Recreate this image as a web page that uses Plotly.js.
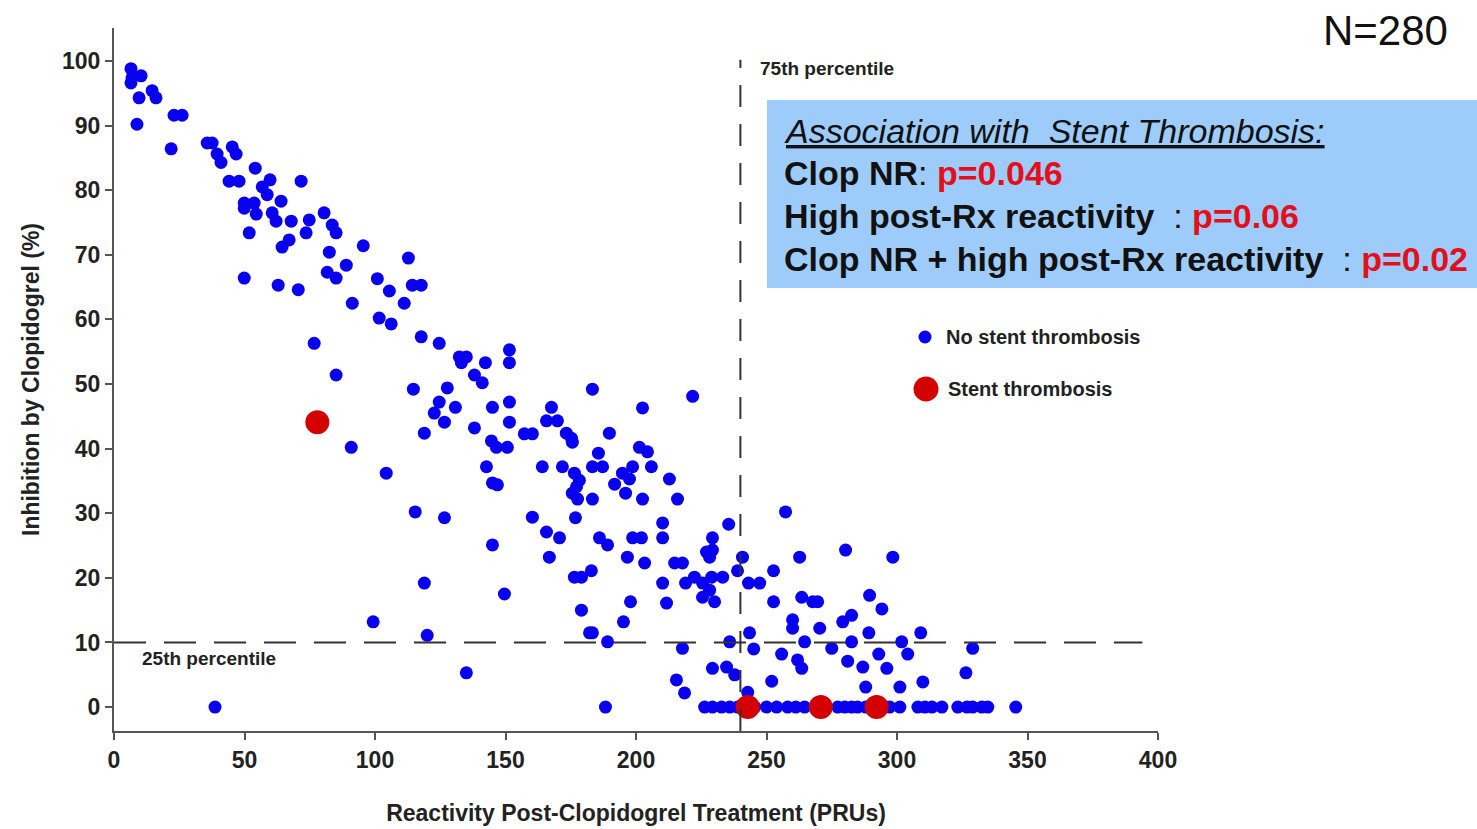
<!DOCTYPE html>
<html>
<head>
<meta charset="utf-8">
<script src="https://cdn.plot.ly/plotly-3.0.1.min.js"></script>
<style>
  html, body { margin: 0; padding: 0; background: #fff; }
  #chart { width: 1477px; height: 829px; }
</style>
</head>
<body>
<div id="chart"></div>
<script>
// ---- Data ----
// No stent thrombosis: reactivity (PRU) and inhibition (%)
const noStentX = [
  6.5, 6.9, 10.4, 6.5, 9.6, 14.6, 16.1, 8.8, 23.0, 26.1, 21.9, 35.7, 37.6, 39.5, 41.0, 45.3, 46.8, 44.1, 47.9, 54.1,
  59.8, 56.8, 58.7, 71.7, 49.9, 49.9, 53.7, 64.0, 54.5, 60.6, 62.1, 67.9, 74.8, 80.5, 83.6, 85.1, 73.6, 51.8, 67.1, 64.4,
  82.5, 89.0, 81.7, 85.1, 49.9, 62.9, 70.6, 95.5, 112.8, 100.9, 105.5, 114.3, 117.7, 91.3, 111.2, 101.6, 106.2, 117.7, 124.6, 76.7,
  132.3, 135.0, 133.1, 142.3, 151.5, 151.5, 85.1, 138.1, 141.1, 114.7, 127.7, 124.6, 122.7, 126.6, 130.8, 145.0, 151.5, 151.5, 118.9, 138.1,
  144.6, 146.5, 150.7, 90.9, 142.7, 145.0, 146.9, 104.3, 183.3, 221.7, 202.5, 167.6, 165.7, 169.9, 157.2, 160.3, 173.3, 175.3, 175.6, 189.8,
  185.6, 201.3, 204.4, 164.1, 171.8, 176.4, 178.3, 177.2, 175.6, 177.6, 183.3, 187.2, 194.8, 198.7, 197.5, 205.9, 191.8, 196.0, 183.3, 202.5,
  212.8, 215.9, 115.4, 126.6, 160.3, 176.8, 165.7, 170.7, 186.0, 189.1, 198.7, 202.1, 210.2, 210.2, 145.0, 166.8, 196.7, 203.3, 214.8, 217.8,
  176.4, 179.1, 182.9, 118.9, 149.6, 210.2, 219.0, 222.4, 225.5, 229.0, 233.2, 228.2, 230.1, 225.5, 257.3, 235.5, 229.3, 227.0, 229.3, 228.2,
  240.8, 262.7, 280.3, 298.4, 238.9, 252.7, 243.1, 247.4, 252.7, 263.5, 267.7, 269.6, 289.5, 294.2, 179.1, 197.9, 211.7, 195.2, 260.0, 260.0,
  270.4, 279.2, 282.6, 182.2, 183.3, 189.1, 243.5, 235.9, 217.8, 245.1, 264.6, 255.8, 261.9, 263.5, 282.6, 289.2, 301.8, 309.1, 275.0, 329.0,
  281.1, 286.9, 293.0, 296.1, 304.1, 326.4, 288.0, 301.1, 309.9, 229.3, 234.7, 237.8, 215.5, 218.6, 252.0, 242.8, 99.3, 120.0, 135.0, 38.7,
  188.3, 226.3, 229.3, 232.8, 235.9, 238.9, 245.5, 250.0, 253.9, 258.1, 261.2, 264.6, 277.3, 280.0, 282.6, 284.9, 288.0, 297.2, 301.1, 308.0,
  310.7, 313.4, 317.2, 323.3, 326.8, 329.0, 332.5, 334.8, 345.5
];
const noStentY = [
  98.8, 97.4, 97.7, 96.6, 94.3, 95.4, 94.3, 90.2, 91.6, 91.6, 86.4, 87.3, 87.3, 85.6, 84.3, 86.7, 85.6, 81.4, 81.4, 83.4,
  81.6, 80.5, 79.3, 81.4, 78.0, 77.2, 78.0, 78.3, 76.3, 76.5, 75.2, 75.2, 75.4, 76.5, 74.6, 73.4, 73.4, 73.4, 72.3, 71.2,
  70.4, 68.4, 67.3, 66.4, 66.4, 65.3, 64.6, 71.4, 69.5, 66.3, 64.4, 65.3, 65.3, 62.5, 62.5, 60.2, 59.3, 57.3, 56.3, 56.3,
  54.2, 54.2, 53.3, 53.3, 55.3, 53.3, 51.4, 51.4, 50.2, 49.2, 49.4, 47.2, 45.5, 44.1, 46.4, 46.4, 47.2, 44.1, 42.4, 43.2,
  41.2, 40.2, 40.2, 40.2, 37.2, 34.7, 34.4, 36.2, 49.2, 48.1, 46.3, 46.4, 44.3, 44.3, 42.3, 42.3, 42.4, 41.6, 41.0, 42.4,
  39.3, 40.2, 39.5, 37.2, 37.2, 36.2, 35.1, 34.1, 33.1, 32.2, 37.2, 37.2, 36.2, 37.2, 35.3, 37.2, 34.5, 33.1, 32.2, 32.2,
  35.3, 32.2, 30.2, 29.3, 29.4, 29.3, 27.1, 26.2, 26.2, 25.1, 26.2, 26.2, 28.5, 26.2, 25.1, 23.2, 23.2, 22.3, 22.3, 22.3,
  20.1, 20.1, 21.1, 19.2, 17.5, 19.2, 19.2, 20.1, 19.2, 20.1, 20.1, 18.1, 16.3, 17.0, 30.2, 28.3, 26.2, 24.0, 24.3, 23.2,
  23.2, 23.2, 24.3, 23.2, 21.1, 21.1, 19.2, 19.2, 16.3, 17.0, 16.3, 16.3, 17.3, 15.2, 15.0, 16.3, 16.1, 13.2, 13.5, 12.2,
  12.2, 13.2, 14.2, 11.5, 11.5, 10.1, 11.5, 10.1, 9.1, 9.0, 10.1, 8.2, 7.3, 6.0, 10.1, 11.5, 10.1, 11.5, 9.1, 9.1,
  7.1, 6.2, 8.2, 6.0, 8.2, 5.3, 3.1, 3.1, 3.9, 6.0, 6.2, 5.0, 4.2, 2.2, 4.0, 2.3, 13.2, 11.1, 5.3, 0,
  0, 0, 0, 0, 0, 0, 0, 0, 0, 0, 0, 0, 0, 0, 0, 0, 0, 0, 0, 0,
  0, 0, 0, 0, 0, 0, 0, 0, 0
];
// Stent thrombosis
const stentX = [77.9, 242.8, 270.8, 292.2];
const stentY = [44.1, 0, 0, 0];

// Percentile cut-offs
const p75PRU = 240;
const p25Inhibition = 10;

const xTicks = [0, 50, 100, 150, 200, 250, 300, 350, 400];
const yTicks = [0, 10, 20, 30, 40, 50, 60, 70, 80, 90, 100];

const boxLines = [
  {label: "Association with  Stent Thrombosis:", p: ""},
  {label: "Clop NR", sep: ": ", p: "p=0.046"},
  {label: "High post-Rx reactivity", sep: "  : ", p: "p=0.06"},
  {label: "Clop NR + high post-Rx reactivity", sep: "  : ", p: "p=0.02"}
];

// ---- Layout geometry ----
const W = 1477, H = 829;
const mL = 114, mR = W - 1158, mT = 28, mB = H - 731;
const plotW = W - mL - mR, plotH = H - mT - mB;
const px2paperX = px => (px - mL) / plotW;
const py2paperY = py => (H - mB - py) / plotH;

const FAM = "Liberation Sans, Arial, sans-serif";
const tickFont = {family: FAM, size: 23, color: "#222", weight: "bold"};
const boldFont = (sz) => ({family: FAM, size: sz, color: "#222", weight: "bold"});

const traces = [
  {
    type: "scatter", mode: "markers", x: noStentX, y: noStentY,
    marker: {color: "#0a00f0", size: 13, line: {width: 0}},
    showlegend: false, hoverinfo: "x+y"
  },
  {
    type: "scatter", mode: "markers", x: stentX, y: stentY,
    marker: {color: "#d40000", size: 24, line: {width: 0}},
    showlegend: false, hoverinfo: "x+y"
  }
];

const lineCol = "#333";
const shapes = [
  // 75th percentile vertical dashed line
  {type: "line", xref: "x", yref: "y", x0: p75PRU, x1: p75PRU, y0: -3.7, y1: 100.2,
   line: {color: lineCol, width: 2, dash: "22px,17px"}, layer: "above"},
  // 25th percentile horizontal dashed line
  {type: "line", xref: "x", yref: "y", x0: 0, x1: 394, y0: p25Inhibition, y1: p25Inhibition,
   line: {color: lineCol, width: 2, dash: "32px,18px"}, layer: "above"},
  // blue text box
  {type: "rect", xref: "paper", yref: "paper", x0: px2paperX(767), x1: px2paperX(1477),
   y0: py2paperY(288), y1: py2paperY(100), fillcolor: "rgb(158,204,250)", line: {width: 0}, layer: "below"},
  // legend markers
  {type: "circle", xref: "paper", yref: "paper", xsizemode: "pixel", ysizemode: "pixel",
   xanchor: px2paperX(925), yanchor: py2paperY(337), x0: -6.5, x1: 6.5, y0: -6.5, y1: 6.5,
   fillcolor: "#0a00f0", line: {width: 0}},
  {type: "circle", xref: "paper", yref: "paper", xsizemode: "pixel", ysizemode: "pixel",
   xanchor: px2paperX(926), yanchor: py2paperY(389), x0: -12.5, x1: 12.5, y0: -12.5, y1: 12.5,
   fillcolor: "#d40000", line: {width: 0}}
];

const boxY = [131, 173, 216, 259];

const annotations = [
  {xref: "paper", yref: "paper", x: px2paperX(1450), y: py2paperY(30), xanchor: "right", yanchor: "middle",
   text: "N=280", showarrow: false, font: {family: FAM, size: 42, color: "#111"}},
  {xref: "paper", yref: "paper", x: px2paperX(758), y: py2paperY(69), xanchor: "left", yanchor: "middle",
   text: "<b>75th percentile</b>", showarrow: false, font: boldFont(19)},
  {xref: "paper", yref: "paper", x: px2paperX(140), y: py2paperY(658), xanchor: "left", yanchor: "middle",
   text: "<b>25th percentile</b>", showarrow: false, font: boldFont(19)},
  {xref: "paper", yref: "paper", x: px2paperX(944), y: py2paperY(337), xanchor: "left", yanchor: "middle",
   text: "<b>No stent thrombosis</b>", showarrow: false, font: boldFont(20)},
  {xref: "paper", yref: "paper", x: px2paperX(946), y: py2paperY(389), xanchor: "left", yanchor: "middle",
   text: "<b>Stent thrombosis</b>", showarrow: false, font: boldFont(20)}
];
boxLines.forEach((ln, i) => {
  let txt;
  if (i === 0) {
    txt = "<i><u>" + ln.label + "</u></i>";
  } else {
    txt = "<b>" + ln.label + "</b>" + ln.sep + "<b><span style='color:#e3101c'>" + ln.p + "</span></b>";
  }
  annotations.push({
    xref: "paper", yref: "paper", x: px2paperX(782), y: py2paperY(boxY[i]), xanchor: "left", yanchor: "middle",
    text: txt, showarrow: false, font: {family: FAM, size: 34, color: "#111"}
  });
});

const layout = {
  width: W, height: H,
  margin: {l: mL, r: mR, t: mT, b: mB, pad: 0},
  paper_bgcolor: "#fff", plot_bgcolor: "#fff",
  showlegend: false,
  xaxis: {
    range: [0, 400], tickvals: xTicks, ticktext: xTicks.map(String),
    showgrid: false, zeroline: false, showline: true, linecolor: "#555", linewidth: 2,
    ticks: "outside", ticklen: 7, tickwidth: 2, tickcolor: "#555",
    tickfont: tickFont,
    title: {text: "<b>Reactivity Post-Clopidogrel Treatment (PRUs)</b>", font: boldFont(23), standoff: 33}
  },
  yaxis: {
    range: [-3.7, 105.1], tickvals: yTicks, ticktext: yTicks.map(String),
    showgrid: false, zeroline: false, showline: true, linecolor: "#555", linewidth: 2,
    ticks: "outside", ticklen: 7, tickwidth: 2, tickcolor: "#555",
    tickfont: tickFont,
    title: {text: "<b>Inhibition by Clopidogrel (%)</b>", font: boldFont(23), standoff: 16}
  },
  shapes: shapes,
  annotations: annotations
};

Plotly.newPlot("chart", traces, layout, {displayModeBar: false, staticPlot: true});
</script>
</body>
</html>
